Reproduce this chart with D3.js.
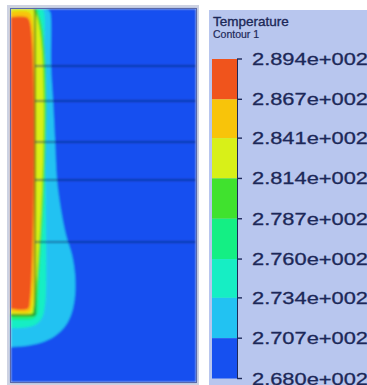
<!DOCTYPE html>
<html>
<head>
<meta charset="utf-8">
<script src="https://cdn.jsdelivr.net/npm/d3@7"></script>
<style>
  html, body { margin: 0; padding: 0; background: #ffffff; overflow: hidden; }
  svg { display: block; }
</style>
</head>
<body>
<svg id="chart" width="367" height="385"></svg>
<script>
// Contour level values (K), from the top of the legend down
const levelValues = [289.4, 286.7, 284.1, 281.4, 278.7, 276.0, 273.4, 270.7, 268.0];
// Fill colour of each band, hottest first
const bandColors = ["#f0541c", "#f8c40a", "#d8f018", "#40e22e", "#14ef84", "#16eec4", "#22c2f2", "#1650f0"];

// Band outlines in the section plane, mm (x out from the axis, y down from the top face)
const band270 = [[0,0],[17.5,0],[19.5,1.5],[20,5.5],[20,28.5],[21,45.5],[22,65.5],[23,85.5],[25,100.5],[27.5,113],[30.5,123],[32,133],[32,143],[30.5,151.5],[27.5,158],[22,163.5],[14.5,167],[7,168.5],[0,169]];
const band273 = [[0,0],[15.5,0],[16.5,1.5],[16.5,25.5],[17,70.5],[17.5,115.5],[17.5,140.5],[17,148],[15.5,154.5],[12,158],[4.5,159.5],[0,159.5]];
const band276 = [[0,0],[13.5,0],[13.75,2.5],[13.75,145.5],[13.25,152.5],[11,155],[4.5,155.5],[0,155.5]];
const band279 = [[0,0],[12.25,0],[12.25,151.5],[11.5,153.5],[0,154]];
const band281 = [[0,0],[11,0],[11,151],[10,152.5],[0,152.5]];
const band284 = [[0,1.5],[8.5,1.5],[10.25,3.5],[10.25,150],[9.25,151.5],[0,151.5]];
const band287 = [[0,4],[7.5,4],[9.25,6],[9.25,148],[8.25,150],[0,150]];
const bandOutlines = [band287, band284, band281, band279, band276, band273, band270];

// Geometry edges drawn over the field, mm
const insertEdgeX = 12, insertBottomY = 153;
const layerLinesY = [28.5, 46, 66.5, 85.5, 116.5];
const fieldWidth = 92.5, fieldHeight = 186.5;

const svg = d3.select("#chart");
const defs = svg.append("defs");
defs.append("filter").attr("id", "soft")
  .attr("x", "-5%").attr("y", "-5%").attr("width", "110%").attr("height", "110%")
  .append("feGaussianBlur").attr("stdDeviation", 0.9);

const x = d3.scaleLinear().domain([0, fieldWidth]).range([11, 196]);
const y = d3.scaleLinear().domain([0, fieldHeight]).range([9, 382]);

// Panel frame
svg.append("rect").attr("x", 7).attr("y", 5).attr("width", 192).attr("height", 380)
  .attr("fill", "#cdd2e2");

const field = svg.append("g").attr("filter", "url(#soft)");
field.append("clipPath").attr("id", "fieldClip")
  .append("rect").attr("x", x(0)).attr("y", y(0))
  .attr("width", x(fieldWidth) - x(0)).attr("height", y(fieldHeight) - y(0));
const fg = field.append("g").attr("clip-path", "url(#fieldClip)");

// Coldest band fills the whole section
fg.append("rect").attr("x", x(0)).attr("y", y(0))
  .attr("width", x(fieldWidth) - x(0)).attr("height", y(fieldHeight) - y(0))
  .attr("fill", bandColors[bandColors.length - 1]);

const outline = d3.line().x(d => x(d[0])).y(d => y(d[1])).curve(d3.curveCatmullRom.alpha(0.5));

// Paint bands from the outermost (coolest) inwards
const ordered = bandOutlines.map((pts, i) => ({ pts, color: bandColors[i] })).reverse();
fg.selectAll("path.band").data(ordered).join("path")
  .attr("class", "band")
  .attr("d", d => outline(d.pts) + "Z")
  .attr("fill", d => d.color);

// Geometry edges
const edgeColor = "rgba(10,30,90,0.7)";
fg.append("line").attr("x1", x(insertEdgeX)).attr("x2", x(insertEdgeX))
  .attr("y1", y(0)).attr("y2", y(insertBottomY))
  .attr("stroke", "rgba(20,70,40,0.75)").attr("stroke-width", 1.3);
fg.append("line").attr("x1", x(0)).attr("x2", x(insertEdgeX))
  .attr("y1", y(insertBottomY)).attr("y2", y(insertBottomY))
  .attr("stroke", "rgba(20,70,40,0.75)").attr("stroke-width", 1.3);
fg.selectAll("line.layer").data(layerLinesY).join("line")
  .attr("class", "layer")
  .attr("x1", x(insertEdgeX)).attr("x2", x(fieldWidth))
  .attr("y1", d => y(d)).attr("y2", d => y(d))
  .attr("stroke", edgeColor).attr("stroke-width", 1.5);

// Field border
svg.append("rect").attr("x", x(0) - 0.5).attr("y", y(0) - 0.5)
  .attr("width", x(fieldWidth) - x(0) + 1).attr("height", y(fieldHeight) - y(0) + 1)
  .attr("fill", "none").attr("stroke", "#5a68a8").attr("stroke-width", 1);

// Legend panel
svg.append("rect").attr("x", 209).attr("y", 10).attr("width", 158).attr("height", 375)
  .attr("fill", "#b8c6ee");

const ink = "#1c2858";
svg.append("text").attr("x", 213).attr("y", 26)
  .attr("font-family", "Liberation Sans, Arial, sans-serif").attr("font-size", 13.5)
  .attr("stroke", ink).attr("stroke-width", 0.35)
  .attr("fill", ink).text("Temperature");
svg.append("text").attr("x", 213).attr("y", 38)
  .attr("font-family", "Liberation Sans, Arial, sans-serif").attr("font-size", 10.5)
  .attr("stroke", ink).attr("stroke-width", 0.2)
  .attr("fill", ink).text("Contour 1");

const cb = d3.scaleLinear().domain([268.0, 289.4]).range([378.5, 59]);
const bands = d3.pairs(levelValues).map((p, i) => ({ hi: p[0], lo: p[1], color: bandColors[i] }));
svg.append("g").selectAll("rect").data(bands).join("rect")
  .attr("x", 212).attr("width", 25)
  .attr("y", d => cb(d.hi)).attr("height", d => cb(d.lo) - cb(d.hi))
  .attr("fill", d => d.color);

svg.append("line").attr("x1", 237.5).attr("x2", 237.5)
  .attr("y1", cb(289.4)).attr("y2", cb(268.0))
  .attr("stroke", ink).attr("stroke-width", 1);

// Tick labels in solver notation, e.g. 2.894e+002
const sci = v => {
  const e = Math.floor(Math.log10(v));
  const m = v / Math.pow(10, e);
  return m.toFixed(3) + "e" + (e >= 0 ? "+" : "-") + String(Math.abs(e)).padStart(3, "0");
};

const ticks = svg.append("g");
ticks.selectAll("line").data(levelValues).join("line")
  .attr("x1", 237).attr("x2", 242)
  .attr("y1", d => cb(d)).attr("y2", d => cb(d))
  .attr("stroke", ink).attr("stroke-width", 1.4);
ticks.selectAll("text").data(levelValues).join("text")
  .attr("x", 252).attr("y", d => cb(d) + 6)
  .attr("font-family", "Liberation Sans, Arial, sans-serif").attr("font-size", 17)
  .attr("textLength", 116).attr("lengthAdjust", "spacingAndGlyphs")
  .attr("stroke", ink).attr("stroke-width", 0.3)
  .attr("fill", ink).text(d => sci(d));
</script>
</body>
</html>
